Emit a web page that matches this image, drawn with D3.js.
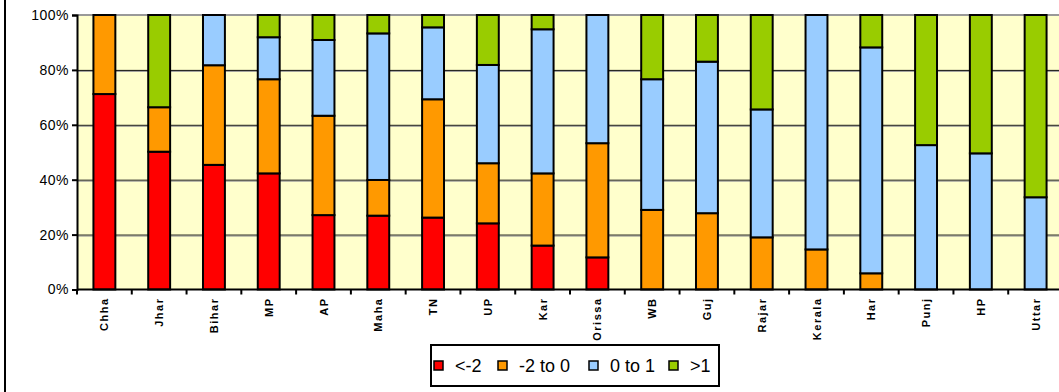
<!DOCTYPE html>
<html>
<head>
<meta charset="utf-8">
<script src="https://cdn.jsdelivr.net/npm/d3@7"></script>
<style>
  body { margin: 0; background: #fff; }
  svg { display: block; }
</style>
</head>
<body>
<svg id="chart" width="1059" height="392"></svg>
<script>
// categories and the four share bands (percent of each state)
var states = ["Chha", "Jhar", "Bihar", "MP", "AP", "Maha", "TN", "UP", "Kar", "Orissa",
              "WB", "Guj", "Rajar", "Kerala", "Har", "Punj", "HP", "Uttar"];
var bands = ["<-2", "-2 to 0", "0 to 1", ">1"];
var bandColors = ["#FF0000", "#FF9900", "#99CCFF", "#99CC00"];

var lowest  = [71.2, 50.2, 45.4, 42.3, 27.1, 26.9, 26.2, 24.1, 16.0, 11.7, 0, 0, 0, 0, 0, 0, 0, 0];
var negMid  = [28.8, 16.2, 36.3, 34.3, 36.2, 13.0, 43.1, 21.9, 26.3, 41.6, 29.0, 27.8, 19.0, 14.6, 5.9, 0, 0, 0];
var posMid  = [0, 0, 18.3, 15.3, 27.6, 53.4, 26.2, 35.8, 52.5, 46.7, 47.6, 55.2, 46.6, 85.4, 82.3, 52.6, 49.6, 33.6];
var highest = [0, 33.6, 0, 8.1, 9.1, 6.7, 4.5, 18.2, 5.2, 0, 23.4, 17.0, 34.4, 0, 11.8, 47.4, 50.4, 66.4];

var yTicks = [0, 20, 40, 60, 80, 100];

var svg = d3.select("#chart");

var margins = { top: 15, left: 77, bottom: 102.5 };
var plotRight = 1063;
var plotBottom = 392 - margins.bottom;

var xScale = d3.scaleBand().domain(states).range([margins.left, plotRight]).paddingInner(0.6).paddingOuter(0.3);
var yScale = d3.scaleLinear().domain([0, 100]).range([plotBottom, margins.top]);

// outer frame line on the left
svg.append("line")
    .attr("x1", 5).attr("x2", 5).attr("y1", 0).attr("y2", 392)
    .attr("stroke", "#000").attr("stroke-width", 2);

// plot background
svg.append("rect")
    .attr("x", margins.left).attr("y", margins.top)
    .attr("width", plotRight - margins.left).attr("height", plotBottom - margins.top)
    .attr("fill", "#FFFFCC");

// grid lines
svg.selectAll(".grid").data(yTicks.filter(function(d) { return d > 0 && d < 100; }))
    .enter().append("line")
    .attr("class", "grid")
    .attr("x1", margins.left).attr("x2", plotRight)
    .attr("y1", function(d) { return yScale(d) + 0.5; })
    .attr("y2", function(d) { return yScale(d) + 0.5; })
    .attr("stroke", "#000").attr("stroke-width", 1);
svg.selectAll(".gridShadow").data(yTicks.filter(function(d) { return d > 0 && d < 100; }))
    .enter().append("line")
    .attr("class", "gridShadow")
    .attr("x1", margins.left).attr("x2", plotRight)
    .attr("y1", function(d) { return yScale(d) + 1.5; })
    .attr("y2", function(d) { return yScale(d) + 1.5; })
    .attr("stroke", "#999").attr("stroke-width", 1);

// top edge of plot
svg.append("line")
    .attr("x1", margins.left).attr("x2", plotRight)
    .attr("y1", yScale(100)).attr("y2", yScale(100))
    .attr("stroke", "#999").attr("stroke-width", 2);

// stacked data
var table = states.map(function(s, i) {
    return { state: s, "<-2": lowest[i], "-2 to 0": negMid[i], "0 to 1": posMid[i], ">1": highest[i] };
});
var stack = d3.stack().keys(bands)(table);

var layers = svg.selectAll(".layer").data(stack)
    .enter().append("g")
    .attr("class", "layer")
    .attr("fill", function(d, i) { return bandColors[i]; });

layers.selectAll("rect")
    .data(function(d) { return d.filter(function(p) { return p[1] - p[0] > 0; }); })
    .enter().append("rect")
    .attr("x", function(d) { return xScale(d.data.state); })
    .attr("width", xScale.bandwidth())
    .attr("y", function(d) { return yScale(d[1]); })
    .attr("height", function(d) { return yScale(d[0]) - yScale(d[1]); })
    .attr("stroke", "#000")
    .attr("stroke-width", 2);

// y axis
var yAxis = svg.append("g")
    .attr("transform", "translate(" + margins.left + ",0)")
    .call(d3.axisLeft(yScale).tickValues(yTicks).tickSize(5).tickPadding(3)
          .tickFormat(function(d) { return d + "%"; }));
yAxis.select(".domain").attr("stroke", "#000").attr("stroke-width", 2);
yAxis.selectAll(".tick line").attr("stroke", "#000").attr("stroke-width", 2);
yAxis.selectAll("text")
    .style("font-family", "Arial, 'Liberation Sans', sans-serif")
    .style("font-size", "14px")
    .style("letter-spacing", "0.5px")
    .attr("fill", "#000");

// x axis, ticks sit on the category boundaries
var xAxis = svg.append("g")
    .attr("transform", "translate(0," + plotBottom + ")");
xAxis.append("line")
    .attr("x1", margins.left).attr("x2", plotRight)
    .attr("stroke", "#000").attr("stroke-width", 2);
var step = xScale.step();
xAxis.selectAll(".xtick").data(states)
    .enter().append("line")
    .attr("class", "xtick")
    .attr("x1", function(d) { return xScale(d) - step * 0.3; })
    .attr("x2", function(d) { return xScale(d) - step * 0.3; })
    .attr("y1", 0).attr("y2", 5)
    .attr("stroke", "#000").attr("stroke-width", 2);
xAxis.selectAll(".xlabel").data(states)
    .enter().append("text")
    .attr("class", "xlabel")
    .attr("transform", function(d) {
        return "translate(" + (xScale(d) + xScale.bandwidth() / 2 + 4) + ",8) rotate(-90)";
    })
    .attr("text-anchor", "end")
    .style("font-family", "Arial, 'Liberation Sans', sans-serif")
    .style("font-size", "11px")
    .style("font-weight", "bold")
    .style("letter-spacing", "1.5px")
    .text(function(d) { return d; });

// legend
var legend = svg.append("g").attr("transform", "translate(431,345)");
legend.append("rect")
    .attr("width", 288).attr("height", 41)
    .attr("fill", "#fff").attr("stroke", "#000").attr("stroke-width", 2);
var legendX = [3, 67, 158, 238];
var items = legend.selectAll(".item").data(bands)
    .enter().append("g")
    .attr("class", "item")
    .attr("transform", function(d, i) { return "translate(" + legendX[i] + ",0)"; });
items.append("rect")
    .attr("x", 0).attr("y", 16)
    .attr("width", 9).attr("height", 9)
    .attr("fill", function(d, i) { return bandColors[i]; })
    .attr("stroke", "#000").attr("stroke-width", 1.5);
items.append("text")
    .attr("x", 21).attr("y", 27)
    .style("font-family", "Arial, 'Liberation Sans', sans-serif")
    .style("font-size", "18px")
    .text(function(d) { return d; });
</script>
</body>
</html>
